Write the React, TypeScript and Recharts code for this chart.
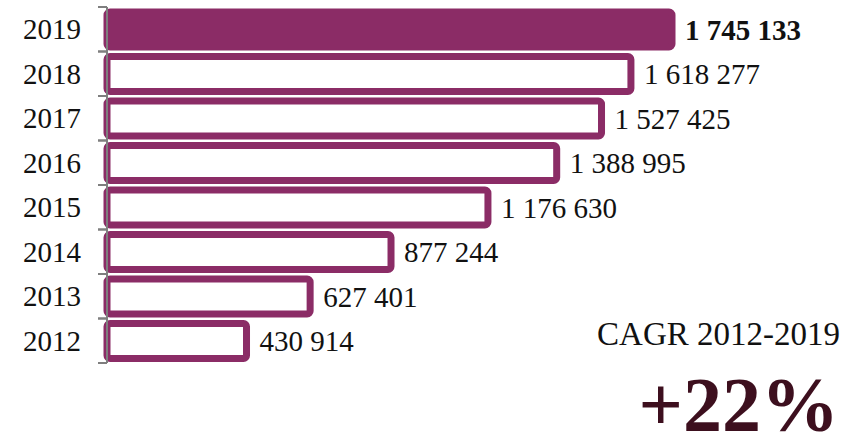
import React from "react";
import { BarChart, Bar, XAxis, YAxis, Cell, LabelList } from "recharts";

const years = ["2019", "2018", "2017", "2016", "2015", "2014", "2013", "2012"];
const values = [1745133, 1618277, 1527425, 1388995, 1176630, 877244, 627401, 430914];
const highlightYear = "2019";
const cagrLabel = "CAGR 2012-2019";
const cagrValue = "+22%";

const data = years.map((year, i) => ({ year, value: values[i] }));

const PURPLE = "#8b2c66";
const MAROON = "#3d0f1e";
const GREY = "#7f7f7f";
const FONT = "'Liberation Serif', 'Times New Roman', serif";

const W = 861;
const H = 432;
const TOP = 7;
const BOTTOM = 69;
const AXIS_X = 107;
const BAND = (H - TOP - BOTTOM) / years.length;

const fmt = (v: number) => String(v).replace(/\B(?=(\d{3})+(?!\d))/g, " ");

function YearTick(props: any) {
  const { y, payload } = props;
  const top = y - BAND / 2;
  const bottom = y + BAND / 2;
  return (
    <g>
      <line x1={AXIS_X - 9} x2={AXIS_X} y1={top} y2={top} stroke={GREY} strokeWidth={2} />
      <line x1={AXIS_X - 9} x2={AXIS_X} y1={bottom} y2={bottom} stroke={GREY} strokeWidth={2} />
      <text x={81} y={y + 10} textAnchor="end" fontSize={29} fontFamily={FONT} fill="#111">
        {payload.value}
      </text>
    </g>
  );
}

function ValueLabel(props: any) {
  const { x, y, width, height, value, index } = props;
  const bold = years[index] === highlightYear;
  return (
    <text
      x={x + width + 13}
      y={y + height / 2 + 10}
      fontSize={29}
      fontFamily={FONT}
      fontWeight={bold ? "bold" : "normal"}
      fill="#111"
    >
      {fmt(value)}
    </text>
  );
}

export default function App() {
  return (
    <div style={{ position: "absolute", left: 0, top: 0, width: W, height: H, background: "#fff" }}>
      <BarChart
        width={W}
        height={H}
        data={data}
        layout="vertical"
        margin={{ top: TOP, right: 189, left: 0, bottom: BOTTOM }}
      >
        <XAxis type="number" hide domain={[0, "dataMax"]} />
        <YAxis
          type="category"
          dataKey="year"
          width={AXIS_X}
          axisLine={{ stroke: GREY, strokeWidth: 2 }}
          tickLine={false}
          tick={<YearTick />}
          interval={0}
        />
        <Bar dataKey="value" barSize={35} strokeWidth={7} radius={3} isAnimationActive={false}>
          {data.map((d) => (
            <Cell
              key={d.year}
              fill={d.year === highlightYear ? PURPLE : "#ffffff"}
              stroke={PURPLE}
            />
          ))}
          <LabelList dataKey="value" content={<ValueLabel />} />
        </Bar>
      </BarChart>
      <svg
        width={W}
        height={H}
        style={{ position: "absolute", left: 0, top: 0, pointerEvents: "none" }}
      >
        <text x={840} y={345} textAnchor="end" fontSize={33} fontFamily={FONT} fill="#111">
          {cagrLabel}
        </text>
        <text
          x={839}
          y={431}
          textAnchor="end"
          fontSize={78}
          fontWeight="bold"
          fontFamily={FONT}
          fill={MAROON}
        >
          {cagrValue}
        </text>
      </svg>
    </div>
  );
}
